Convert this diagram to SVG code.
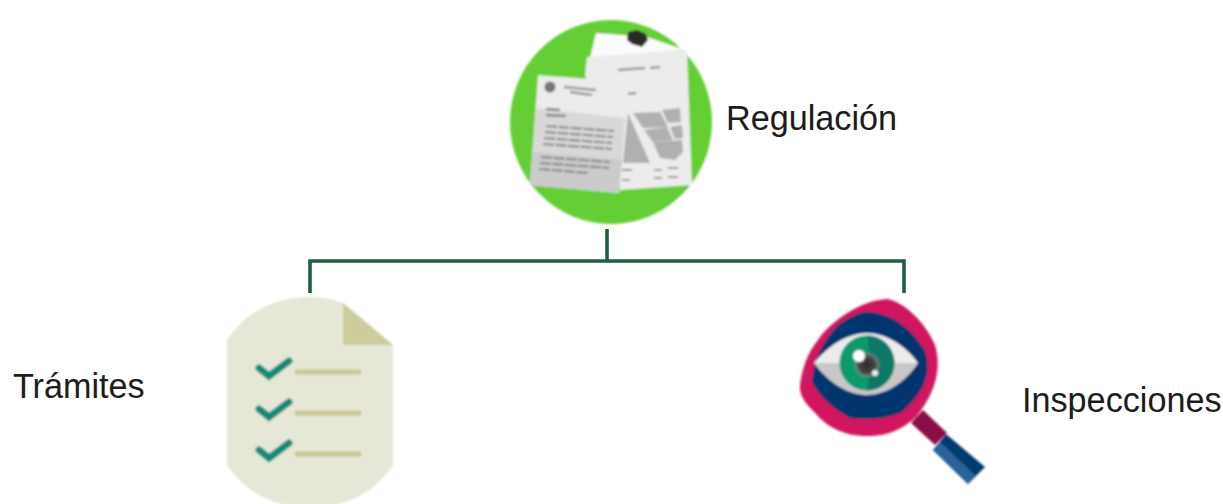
<svg xmlns="http://www.w3.org/2000/svg" width="1223" height="504" viewBox="0 0 1223 504">
<defs>
<style>
.lbl{font-family:"Liberation Sans",Arial,sans-serif;font-size:34.2px;fill:#1c1c1c}
.conn{fill:none;stroke:#1f5f3f;stroke-width:3.6}
.check{fill:none;stroke:#0f8c78;stroke-width:7;stroke-linecap:round;stroke-linejoin:miter}
.rule{stroke:#c9c796;stroke-width:5;stroke-linecap:round}
.txt{stroke:#8a8a8a;stroke-width:2.2;fill:none;stroke-dasharray:11 1.5}
.blk{fill:#b0b0b0}
</style>
<filter id="soft" x="-5%" y="-5%" width="110%" height="110%"><feGaussianBlur stdDeviation="0.8"/></filter>
<radialGradient id="pupil" cx="0.5" cy="0.5" r="0.5"><stop offset="0" stop-color="#2e2e2e"/><stop offset="0.65" stop-color="#444"/><stop offset="1" stop-color="#6f8f80"/></radialGradient>
</defs>
<g id="connectors">
<path class="conn" d="M607 229V261M310 293V261H904V293"/>
</g>
<g id="node-regulacion" filter="url(#soft)">
<ellipse cx="611" cy="122" rx="101" ry="102" fill="#63cf35"/>
<path d="M587 72L596 33L601 34L592 74Z" fill="#d9694f"/>
<path d="M596 33L647 37L685 50L590 58Z" fill="#fbfbfb"/>
<path d="M587 57L687 50L692 185L620 190L585 75Z" fill="#ececec"/>
<path d="M628 32L637 30L646 34L648 40L642 47L632 44L627 40Z" fill="#2a2a2a"/>
<path d="M618 70L645 68M650 68L660 67M628 94L636 93" stroke="#9a9a9a" stroke-width="2.5" fill="none"/>
<path class="blk" d="M633 113L660 112L668 127L643 128Z"/>
<path class="blk" d="M662 110L680 108L681 122L668 123Z"/>
<path class="blk" d="M644 130L667 127L673 140L653 142Z"/>
<path class="blk" d="M670 127L682 125L683 138L675 139Z"/>
<path class="blk" d="M653 142L682 140L683 152L675 160L660 158Z"/>
<path class="blk" d="M628 113L650 163L623 163Z"/>
<path d="M622 170L632 170M654 170L662 170M668 168L678 168M622 180L630 180M654 178L662 178M668 177L678 177" stroke="#9a9a9a" stroke-width="2" fill="none"/>
<path d="M538 75L627 82L619 193L530 185Z" fill="#ececec"/>
<path d="M536 108L625 118L619 193L530 185Z" fill="#d8d8d8"/>
<path d="M533 152L622 160L619 193L530 185Z" fill="#cbcbcb"/>
<circle cx="550" cy="87" r="5.500" fill="#777"/>
<path d="M564 87L596 90M570 92L592 95" stroke="#999" stroke-width="2.500" fill="none"/>
<path d="M546 109L560 110M546 115L566 116" stroke="#888" stroke-width="2.500" fill="none"/>
<path class="txt" d="M546 126L614 131M545 132L613 137M544 138L612 143M543 144L612 149M541 157L610 162M540 163L609 168M539 169L588 173"/>
</g>
<g id="node-tramites" filter="url(#soft)">
<path d="M227 465V340C245 312 275 297 310 297C322 297 333 299 343 303L393 345V465C375 492 345 508 310 508C275 508 245 492 227 465Z" fill="#e6e7d6"/>
<path d="M343 303L393 345H343Z" fill="#cdcc9c"/>
<path class="check" d="M259 368L269 376L289 361"/>
<path class="check" d="M259 409L269 417L289 402"/>
<path class="check" d="M259 450L269 458L289 443"/>
<path class="rule" d="M297 372H359M297 413H359M297 454H359"/>
</g>
<g id="node-inspecciones" filter="url(#soft)">
<path d="M923 410L947 433L935 445L911 423Z" fill="#8a0f45"/>
<path d="M946 434L985 467L968 484L933 450Z" fill="#063a70"/>
<path d="M933 450L940 442L976 476L968 484Z" fill="#2a6299"/>
<path d="M888 299C905 303 925 322 935 345C941 365 938 390 916 417C900 432 882 437 865 436C845 436 827 427 816 414C805 403 799 395 800 385C802 368 808 352 818 340C830 322 860 300 888 299Z" fill="#d0135f"/>
<path d="M868 312C890 313 912 328 925 351C931 370 927 390 902 412C885 420 865 420 850 418C835 410 820 398 812 382C814 360 820 345 838 325C848 318 858 312 868 312Z" fill="#06356e"/>
<path d="M814 363C830 343 850 333 867 333C885 333 905 345 918 363Z" fill="#ececec"/>
<path d="M814 363C830 385 850 395 867 395C885 395 905 383 918 363Z" fill="#c8c8c8"/>
<circle cx="867" cy="363" r="27.500" fill="#0d9a6a"/>
<path d="M867 335.500A27.500 27.500 0 0 1 867 390.500C870 372 870 354 867 335.500Z" fill="#0c7868"/>
<circle cx="867" cy="365" r="12" fill="url(#pupil)"/>
<circle cx="859" cy="356" r="6" fill="#ffffff"/>
<circle cx="875" cy="373" r="3" fill="#f0f0f0"/>
</g>
<text class="lbl" x="726" y="130">Regulación</text>
<text class="lbl" x="13" y="398">Trámites</text>
<text class="lbl" x="1022" y="412">Inspecciones</text>
</svg>
